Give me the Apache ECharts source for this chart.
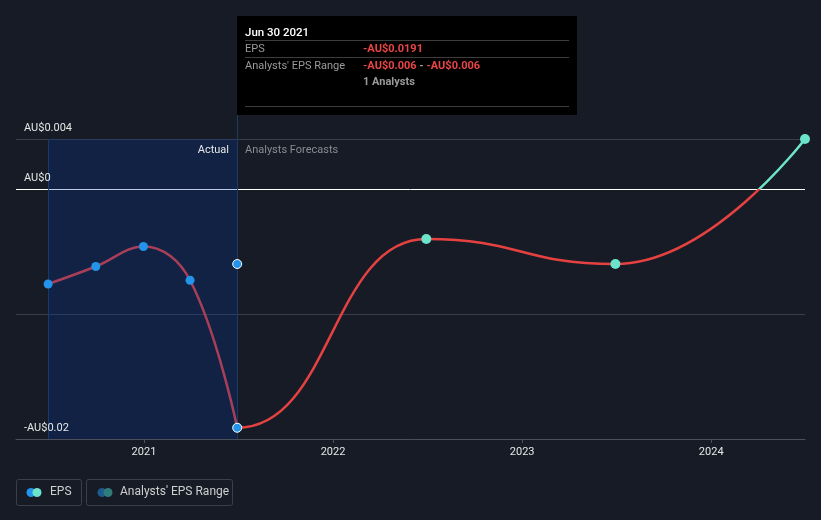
<!DOCTYPE html>
<html>
<head>
<meta charset="utf-8">
<script src="https://cdn.jsdelivr.net/npm/echarts@6/dist/echarts.min.js"></script>
<style>
  html, body { margin: 0; padding: 0; background: #161b25; }
  #chart { width: 821px; height: 520px; }
</style>
</head>
<body>
<div id="chart"></div>
<script>
// reported EPS (actual)
const actualDates = ["2020-06-30", "2020-09-30", "2020-12-31", "2021-03-31", "2021-06-30"];
const actualEps = [-0.0076, -0.0062, -0.0046, -0.0073, -0.0191];
// analyst forecasts
const forecastDates = ["2022-06-30", "2023-06-30", "2024-06-30"];
const forecastEps = [-0.004, -0.006, 0.004];
// analysts' EPS range (single analyst)
const rangeDates = ["2021-06-30"];
const rangeEps = [-0.006];
// axis
const yLabelValues = [-0.02, 0, 0.004];
const yGridValues = [0.004, -0.01];
const yearTicks = ["2021-01-01", "2022-01-01", "2023-01-01", "2024-01-01"];

const RED = "#e64141";
const TEAL = "#6ce3cb";
const BLUE = "#2394ea";

let chart = echarts.init(document.getElementById("chart"));

const ts = (d) => new Date(d + "T00:00:00").getTime();
const X_MIN = ts("2020-04-29");
const X_MAX = ts("2024-06-30");
const Y_MIN = -0.02;
const Y_MAX = 0.00592;
const lastIdx = actualDates.length - 1;
const X_SPLIT = ts(actualDates[lastIdx]);
const actualLine = actualDates.map((d, i) => [ts(d), actualEps[i]]);
// forecast curve starts one actual point earlier so the join gets a proper tangent; that piece is clipped
const forecastLine = actualLine.slice(lastIdx - 1)
  .concat(forecastDates.map((d, i) => [ts(d), forecastEps[i]]));

// second grid for the forecast curve, lined up with the first one
const GRID_LEFT = 16, GRID_RIGHT = 16, CHART_W = 821;
const plotW = CHART_W - GRID_LEFT - GRID_RIGHT;
const grid2Left = GRID_LEFT + (X_SPLIT - X_MIN) / (X_MAX - X_MIN) * plotW;

function fmtLabel(v) {
  if (Math.abs(v) < 1e-9) return "AU$0";
  return (v < 0 ? "-" : "") + "AU$" + Math.abs(v).toFixed(3).replace(/0+$/, "").replace(/\.$/, "");
}

function hLine(v, color) {
  return [
    { coord: [X_MIN, v], lineStyle: { color: color, width: 1, type: "solid" } },
    { coord: [X_MAX, v] },
  ];
}

var option = {
  backgroundColor: "#161b25",
  animation: false,
  textStyle: { fontFamily: "Roboto" },
  grid: [
    { left: GRID_LEFT, right: GRID_RIGHT, top: 115, bottom: 81 },
    { left: grid2Left, right: GRID_RIGHT, top: 115, bottom: 81 },
  ],
  xAxis: [
    {
      type: "value",
      gridIndex: 0,
      min: X_MIN,
      max: X_MAX,
      z: 10,
      axisLine: { onZero: false, lineStyle: { color: "#4b505a", width: 1 } },
      axisTick: {
        show: true,
        length: 4,
        lineStyle: { color: "#4b505a" },
        customValues: yearTicks.map(ts),
      },
      axisLabel: {
        color: "#e6e6e6",
        fontSize: 11,
        margin: 8,
        customValues: yearTicks.map(ts),
        formatter: (v) => String(new Date(v).getFullYear()),
      },
      splitLine: { show: false },
    },
    { type: "value", gridIndex: 1, min: X_SPLIT, max: X_MAX, show: false },
  ],
  yAxis: [
    {
      type: "value",
      gridIndex: 0,
      min: Y_MIN,
      max: Y_MAX,
      interval: 0.002,
      z: 10,
      axisLine: { show: false },
      axisTick: { show: false },
      splitLine: { show: false },
      axisLabel: {
        inside: true,
        margin: 8,
        color: "#e6e6e6",
        fontSize: 11,
        verticalAlign: "bottom",
        padding: [0, 0, 5, 0],
        showMaxLabel: false,
        formatter: (v) => (yLabelValues.some((t) => Math.abs(t - v) < 1e-9) ? fmtLabel(v) : ""),
      },
    },
    { type: "value", gridIndex: 1, min: Y_MIN, max: Y_MAX, show: false },
  ],
  visualMap: {
    show: false,
    type: "piecewise",
    seriesIndex: [0, 1],
    dimension: 1,
    pieces: [
      { min: -1, max: 0, color: RED },
      { min: 0, max: 1, color: TEAL },
    ],
  },
  series: [
    {
      name: "EPS",
      type: "line",
      z: 2,
      data: actualLine,
      smooth: 0.4,
      showSymbol: false,
      lineStyle: { width: 2.5 },
    },
    {
      name: "EPS forecast",
      type: "line",
      xAxisIndex: 1,
      yAxisIndex: 1,
      z: 2,
      clip: true,
      data: forecastLine,
      smooth: 0.5,
      smoothMonotone: "x",
      showSymbol: false,
      lineStyle: { width: 2.5 },
    },
    {
      name: "guides",
      type: "line",
      z: 1,
      data: [[ts(actualDates[0]), Y_MIN]],
      showSymbol: false,
      lineStyle: { opacity: 0 },
      markArea: {
        silent: true,
        z: 3,
        itemStyle: { color: "rgba(5, 55, 150, 0.27)" },
        data: [[{ xAxis: ts(actualDates[0]), yAxis: Y_MIN }, { xAxis: X_SPLIT, yAxis: 0.004 }]],
      },
      markLine: {
        silent: true,
        z: 1,
        symbol: "none",
        label: { show: false },
        lineStyle: { color: "#1d3b63", width: 1, type: "solid" },
        data: [
          ...yGridValues.map((v) => hLine(v, "#3a3f49")),
          hLine(0, "#ffffff"),
          [{ coord: [ts(actualDates[0]), Y_MIN] }, { coord: [ts(actualDates[0]), 0.004] }],
          [{ coord: [ts(rangeDates[0]), Y_MIN] }, { coord: [ts(rangeDates[0]), Y_MAX] }],
        ],
      },
    },
    {
      name: "actualPoints",
      type: "scatter",
      z: 5,
      symbolSize: 9,
      itemStyle: { color: BLUE, opacity: 1 },
      data: actualLine,
    },
    {
      name: "forecastPoints",
      type: "scatter",
      z: 5,
      symbolSize: 10,
      itemStyle: { color: TEAL, opacity: 1 },
      data: forecastDates.map((d, i) => [ts(d), forecastEps[i]]),
    },
    {
      name: "Analysts' EPS Range",
      type: "scatter",
      z: 6,
      symbolSize: 9,
      itemStyle: { color: BLUE, borderColor: "#ffffff", borderWidth: 1, opacity: 1 },
      data: rangeDates.map((d, i) => [ts(d), rangeEps[i]]),
    },
    {
      name: "lastActual",
      type: "scatter",
      z: 6,
      symbolSize: 9,
      itemStyle: { color: BLUE, borderColor: "#ffffff", borderWidth: 1, opacity: 1 },
      data: [[X_SPLIT, actualEps[lastIdx]]],
    },
  ],
  graphic: [
    // region labels
    { type: "text", z: 20, x: 229, y: 145, style: { text: "Actual", fill: "#e6e6e6", font: "11px Roboto", align: "right" } },
    { type: "text", z: 20, x: 245, y: 145, style: { text: "Analysts Forecasts", fill: "#8a8d93", font: "11px Roboto" } },
    // tooltip box
    {
      type: "group",
      z: 20,
      x: 237,
      y: 16,
      children: [
        { type: "rect", shape: { x: 0, y: 0, width: 340, height: 99 }, style: { fill: "#000000" } },
        { type: "text", x: 8, y: 11, style: { text: "Jun 30 2021", fill: "#ffffff", font: "500 11.5px Roboto" } },
        { type: "line", shape: { x1: 8, y1: 24.5, x2: 332, y2: 24.5 }, style: { stroke: "#3d3d3d", lineWidth: 1 } },
        { type: "text", x: 8, y: 28, style: { text: "EPS", fill: "#9a9a9a", font: "11px Roboto" } },
        { type: "text", x: 126, y: 28, style: { text: "-AU$0.0191", fill: "#e84545", font: "bold 11px Roboto" } },
        { type: "line", shape: { x1: 8, y1: 41.5, x2: 332, y2: 41.5 }, style: { stroke: "#3d3d3d", lineWidth: 1 } },
        { type: "text", x: 8, y: 45, style: { text: "Analysts' EPS Range", fill: "#9a9a9a", font: "11px Roboto" } },
        {
          type: "text", x: 126, y: 45,
          style: {
            text: "{r|-AU$0.006}{g| - }{r|-AU$0.006}",
            font: "bold 11px Roboto",
            rich: {
              r: { fill: "#e84545", font: "bold 11px Roboto" },
              g: { fill: "#9a9a9a", font: "bold 11px Roboto" },
            },
          },
        },
        { type: "text", x: 126, y: 61, style: { text: "1 Analysts", fill: "#9a9a9a", font: "bold 11px Roboto" } },
        { type: "line", shape: { x1: 8, y1: 90.5, x2: 332, y2: 90.5 }, style: { stroke: "#3d3d3d", lineWidth: 1 } },
      ],
    },
    // legend
    {
      type: "group",
      x: 16,
      y: 479,
      children: [
        { type: "rect", shape: { x: 0.5, y: 0.5, width: 65, height: 26, r: 2 }, style: { fill: "none", stroke: "#3a3f49", lineWidth: 1 } },
        { type: "circle", shape: { cx: 15, cy: 13.5, r: 4.5 }, style: { fill: BLUE } },
        { type: "circle", shape: { cx: 21, cy: 13.5, r: 4.5 }, style: { fill: TEAL } },
        { type: "text", x: 34, y: 7, style: { text: "EPS", fill: "#cfcfcf", font: "12px Roboto" } },
        { type: "rect", shape: { x: 70.5, y: 0.5, width: 146, height: 26, r: 2 }, style: { fill: "none", stroke: "#3a3f49", lineWidth: 1 } },
        { type: "circle", shape: { cx: 86, cy: 13.5, r: 4.5 }, style: { fill: "#1f5a8c" } },
        { type: "circle", shape: { cx: 92, cy: 13.5, r: 4.5 }, style: { fill: "#2f7d7a" } },
        { type: "text", x: 104, y: 7, style: { text: "Analysts' EPS Range", fill: "#cfcfcf", font: "12px Roboto" } },
      ],
    },
  ],
};

chart.setOption(option);
</script>
</body>
</html>
